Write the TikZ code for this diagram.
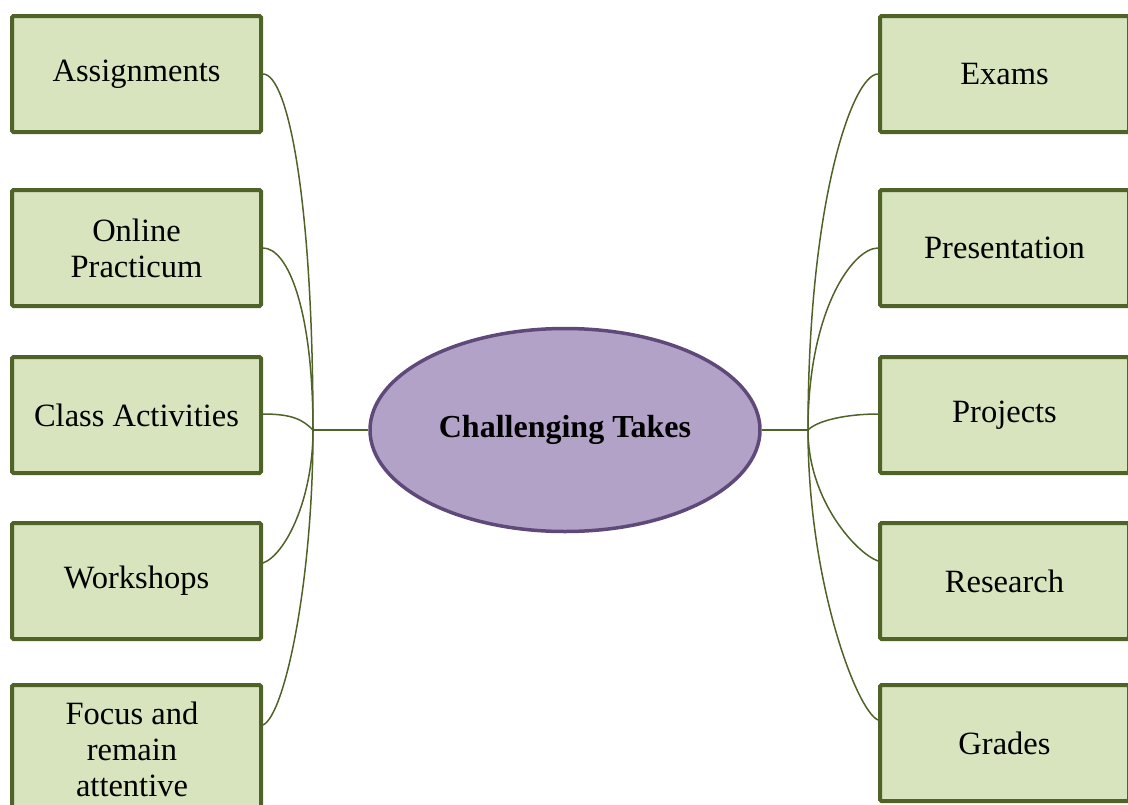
\documentclass[tikz,border=0pt]{standalone}
\usepackage{fontspec}
\setmainfont{Liberation Serif}
\usetikzlibrary{shapes.geometric}
\definecolor{boxfill}{HTML}{D7E4BD}
\definecolor{boxline}{HTML}{4F6228}
\definecolor{ellfill}{HTML}{B2A2C7}
\definecolor{ellline}{HTML}{5F497A}
\begin{document}
\begin{tikzpicture}[x=1pt,y=-1pt,
  leafbox/.style={draw=boxline, fill=boxfill, line width=4pt, rounded corners=1.5pt,
    minimum width=249pt, minimum height=116pt, inner sep=0pt, align=center,
    font=\fontsize{32.5}{36}\selectfont},
  hubell/.style={ellipse, draw=ellline, fill=ellfill, line width=3.5pt,
    minimum width=390pt, minimum height=203pt, inner sep=0pt,
    font=\fontsize{32}{36}\selectfont\bfseries},
  conn/.style={draw=boxline, line width=1.5pt}]
\useasboundingbox (0,0) rectangle (1128,804);
% central ellipse
\node[hubell] (c) at (565,430) {Challenging Takes};
\coordinate (hl) at (313,430);
\coordinate (hr) at (808,430);
% left boxes
\node[leafbox] (a1) at (136.5,74) {Assignments};
\node[leafbox] (a2) at (136.5,248) {Online\\Practicum};
\node[leafbox] (a3) at (136.5,415) {Class Activities};
\node[leafbox] (a4) at (136.5,581) {Workshops};
\node[leafbox, minimum height=143pt] (a5) at (136.5,756.5) {};
\node[font=\fontsize{32.5}{36}\selectfont, align=center] (a5t) at (132,749) {Focus and\\remain\\attentive};
% right boxes
\node[leafbox] (b1) at (1004.5,74) {Exams};
\node[leafbox] (b2) at (1004.5,248) {Presentation};
\node[leafbox] (b3) at (1004.5,415) {Projects};
\node[leafbox] (b4) at (1004.5,581) {Research};
\node[leafbox] (b5) at (1004.5,743) {Grades};
% attachment points for lower boxes
\coordinate (a4p) at ([yshift=-42pt]a4.north east);
\coordinate (a5p) at ([yshift=-42pt]a5.north east);
\coordinate (b4p) at ([yshift=-40pt]b4.north west);
\coordinate (b5p) at ([yshift=-37pt]b5.north west);
% hub lines
\draw[conn] (c.west) -- (hl);
\draw[conn] (c.east) -- (hr);
% left connectors
\draw[conn] (a1.east) .. controls +(25,0) and +(0,-230) .. (hl);
\draw[conn] (a2.east) .. controls +(25,0) and +(0,-120) .. (hl);
\draw[conn] ([yshift=1pt]a3.east) .. controls +(30,0) and +(-10,-10) .. (hl);
\draw[conn] (a4p) .. controls +(22,-8) and +(0,70) .. (hl);
\draw[conn] (a5p) .. controls +(22,-10) and +(0,150) .. (hl);
% right connectors
\draw[conn] (b1.west) .. controls +(-25,0) and +(0,-230) .. (hr);
\draw[conn] (b2.west) .. controls +(-25,0) and +(0,-120) .. (hr);
\draw[conn] ([yshift=1pt]b3.west) .. controls +(-30,0) and +(10,-10) .. (hr);
\draw[conn] (b4p) .. controls +(-22,-8) and +(0,70) .. (hr);
\draw[conn] (b5p) .. controls +(-22,-10) and +(0,150) .. (hr);
\end{tikzpicture}
\end{document}
